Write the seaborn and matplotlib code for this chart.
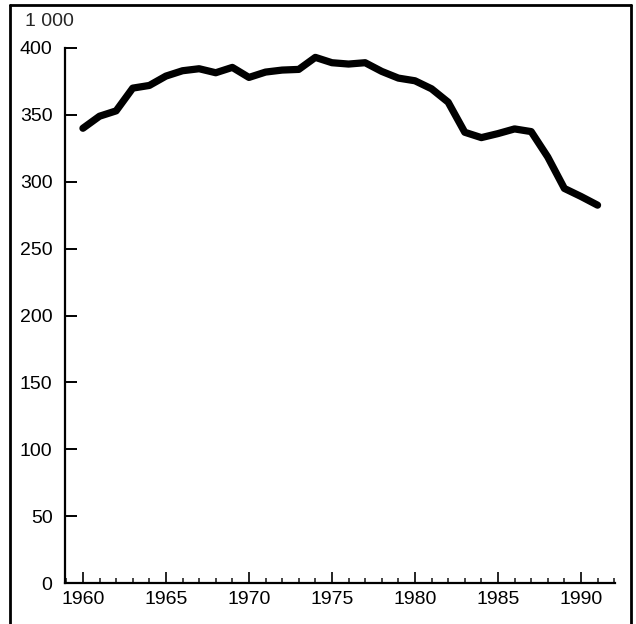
import matplotlib
matplotlib.use("Agg")
import numpy as np
import pandas as pd
import seaborn as sns
import matplotlib.pyplot as plt
from matplotlib.lines import Line2D
from matplotlib.ticker import MultipleLocator

# values (thousands)
years = list(range(1960, 1992))
values = [340, 349, 353, 370, 372, 379, 383, 384.5, 381.5, 385.5,
          378, 382, 383.5, 384, 393, 389, 388, 389, 382.5, 377.5,
          375.5, 369.5, 359.5, 337, 333, 336, 339.5, 337.5, 318.5, 295,
          289, 282.5]
y_ticks = [0, 50, 100, 150, 200, 250, 300, 350, 400]
x_ticks = [1960, 1965, 1970, 1975, 1980, 1985, 1990]
unit_label = "1 000"

df = pd.DataFrame({"year": years, "value": values})

sns.set_theme(style="white")
plt.rcParams["font.family"] = ["Liberation Sans", "DejaVu Sans"]
plt.rcParams["xtick.direction"] = "in"
plt.rcParams["ytick.direction"] = "in"
plt.rcParams["xtick.bottom"] = True
plt.rcParams["ytick.left"] = True

fig = plt.figure(figsize=(6.36, 6.24), dpi=100)
ax = fig.add_axes([65 / 636, 1 - 583 / 624, (615 - 65) / 636, (583 - 48) / 624])

sns.lineplot(data=df, x="year", y="value", ax=ax, color="black", linewidth=5.2)

ax.set_xlim(1958.92, 1992.05)
ax.set_ylim(0, 400)
ax.set_xticks(x_ticks)
ax.set_yticks(y_ticks)
ax.xaxis.set_minor_locator(MultipleLocator(1))
ax.set_xlabel("")
ax.set_ylabel("")

for s in ["top", "right"]:
    ax.spines[s].set_visible(False)
for s in ["left", "bottom"]:
    ax.spines[s].set_color("black")
    ax.spines[s].set_linewidth(1.6)

ax.tick_params(axis="y", which="major", direction="in", length=8.5, width=1.4,
               pad=9, labelsize=14, colors="black", left=True)
ax.tick_params(axis="x", which="major", direction="in", length=8, width=1.2,
               pad=6, labelsize=14, colors="black", bottom=True)
ax.tick_params(axis="x", which="minor", direction="in", length=3.5, width=1.2,
               bottom=True)
ax.grid(False)

fig.text(25 / 636, 1 - 22 / 624, unit_label, ha="left", va="center", fontsize=14)

# frame around the whole figure
fx0, fx1, fy1 = 9.5 / 636, 631 / 636, 1 - 5 / 624
for xs, ys in [([fx0, fx0], [0, fy1]), ([fx0, fx1], [fy1, fy1]), ([fx1, fx1], [0, fy1])]:
    fig.add_artist(Line2D(xs, ys, transform=fig.transFigure, color="black", lw=2))

fig.savefig("out.png", dpi=100)
